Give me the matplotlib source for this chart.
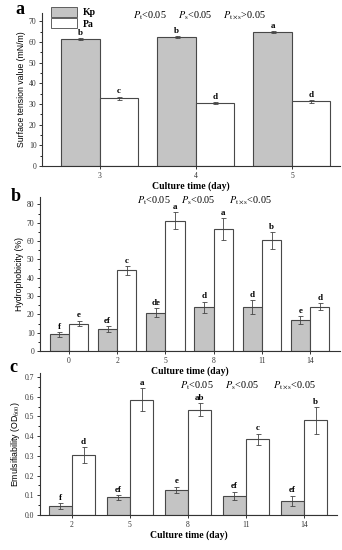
import numpy as np
import matplotlib
matplotlib.use('Agg')
import matplotlib.pyplot as plt
from matplotlib.patches import Patch
from matplotlib.ticker import MultipleLocator

plt.rcParams['font.family'] = ['Liberation Serif', 'DejaVu Serif']
plt.rcParams['mathtext.fontset'] = 'stix'

# 数据 a：表面张力
days_a = ['3', '4', '5']
kp_a = [61.5, 62.5, 64.8]
kp_a_err = [0.6, 0.6, 0.5]
pa_a = [32.7, 30.5, 31.3]
pa_a_err = [0.9, 0.6, 0.6]
kp_a_lab = ['b', 'b', 'a']
pa_a_lab = ['c', 'd', 'd']

# 数据 b：疏水性
days_b = ['0', '2', '5', '8', '11', '14']
kp_b = [9.2, 12.0, 21.0, 24.0, 24.0, 17.0]
kp_b_err = [1.3, 1.5, 2.5, 3.0, 4.0, 2.0]
pa_b = [15.0, 44.0, 71.0, 66.3, 60.3, 24.2]
pa_b_err = [1.6, 2.5, 4.7, 6.0, 4.5, 2.0]
kp_b_lab = ['f', 'ef', 'de', 'd', 'd', 'e']
pa_b_lab = ['e', 'c', 'a', 'a', 'b', 'd']

# 数据 c：乳化性
days_c = ['2', '5', '8', '11', '14']
kp_c = [0.045, 0.090, 0.127, 0.098, 0.072]
kp_c_err = [0.017, 0.013, 0.017, 0.021, 0.026]
pa_c = [0.305, 0.585, 0.533, 0.385, 0.480]
pa_c_err = [0.040, 0.058, 0.033, 0.028, 0.068]
kp_c_lab = ['f', 'ef', 'e', 'ef', 'ef']
pa_c_lab = ['d', 'a', 'ab', 'c', 'b']

# 显著性标注
p_terms = [r'$P_{\mathrm{t}}$<0.05', r'$P_{\mathrm{s}}$<0.05']
p_ts_a = r'$P_{\mathrm{t\times s}}$>0.05'
p_ts_bc = r'$P_{\mathrm{t\times s}}$<0.05'

W, H = 342, 550
fig = plt.figure(figsize=(W / 100, H / 100), dpi=100)

edge = '#484848'
gray = '#c4c4c4'
w = 0.4


def panel(rect, days, kp, kp_err, pa, pa_err, kp_lab, pa_lab,
          xlim, ylim, major, minor, ylabel, off):
    ax = fig.add_axes(rect)
    ax.patch.set_facecolor('none')
    x = np.arange(len(days))
    ax.bar(x - w / 2, kp, w, color=gray, edgecolor=edge, linewidth=0.8)
    ax.bar(x + w / 2, pa, w, color='white', edgecolor=edge, linewidth=0.8)
    ax.errorbar(x - w / 2, kp, yerr=kp_err, fmt='none', ecolor='#444444',
                elinewidth=0.6, capsize=1.8, capthick=0.6)
    ax.errorbar(x + w / 2, pa, yerr=pa_err, fmt='none', ecolor='#444444',
                elinewidth=0.6, capsize=1.8, capthick=0.6)
    for i in range(len(days)):
        ax.text(x[i] - w / 2, kp[i] + kp_err[i] + off, kp_lab[i],
                ha='center', va='bottom', fontsize=6.5, fontweight='bold')
        ax.text(x[i] + w / 2, pa[i] + pa_err[i] + off, pa_lab[i],
                ha='center', va='bottom', fontsize=6.5, fontweight='bold')
    ax.set_xlim(*xlim)
    ax.set_ylim(*ylim)
    ax.set_xticks(x)
    ax.set_xticklabels(days)
    ax.yaxis.set_major_locator(MultipleLocator(major))
    ax.yaxis.set_minor_locator(MultipleLocator(minor))
    ax.tick_params(axis='both', labelsize=5.5, length=2.5, width=0.7,
                   direction='out', pad=1.5, colors='#333333')
    ax.tick_params(axis='y', which='minor', length=1.5, width=0.6)
    for s in ['top', 'right']:
        ax.spines[s].set_visible(False)
    for s in ['left', 'bottom']:
        ax.spines[s].set_color('#333333')
        ax.spines[s].set_linewidth(0.8)
    ax.set_ylabel(ylabel, family=['Liberation Sans Narrow', 'Liberation Sans'],
                  fontsize=6.3, labelpad=2)
    ax.set_xlabel('Culture time (day)', fontsize=7, fontweight='bold',
                  labelpad=1.5)
    return ax


def ptext(xs, y, last):
    for xp, t in zip(xs, p_terms + [last]):
        fig.text(xp / W, 1 - y / H, t, fontsize=7.3, ha='left', va='center')


ax1 = panel([42 / W, 1 - 166 / H, 298 / W, 153 / H],
            days_a, kp_a, kp_a_err, pa_a, pa_a_err, kp_a_lab, pa_a_lab,
            (-0.6, 2.5), (0, 74), 10, 5, 'Surface tension value (mN/m)', 0.5)
ax1.legend(handles=[Patch(facecolor=gray, edgecolor=edge, linewidth=0.6, label='Kp'),
                    Patch(facecolor='white', edgecolor=edge, linewidth=0.6, label='Pa')],
           loc='upper left', bbox_to_anchor=(0.012, 1.075), frameon=False,
           handlelength=2.6, handleheight=1.15,
           prop={'weight': 'bold', 'size': 7}, labelspacing=0.1,
           handletextpad=0.6, borderpad=0.1)
ptext([133, 178, 223], 16, p_ts_a)

ax2 = panel([40 / W, 1 - 351 / H, 300 / W, 154 / H],
            days_b, kp_b, kp_b_err, pa_b, pa_b_err, kp_b_lab, pa_b_lab,
            (-0.6, 5.62), (0, 84), 10, 5, 'Hydrophobicity (%)', 0.6)
ptext([137, 181, 229], 201, p_ts_bc)

ax3 = panel([40 / W, 1 - 515 / H, 297 / W, 142 / H],
            days_c, kp_c, kp_c_err, pa_c, pa_c_err, kp_c_lab, pa_c_lab,
            (-0.55, 4.57), (0, 0.72), 0.1, 0.05,
            r'Emulsifiability (OD$_{600}$)', 0.006)
ptext([180, 225, 273], 386, p_ts_bc)

fig.text(15 / W, 1 - 9 / H, 'a', fontsize=13, fontweight='bold', va='center')
fig.text(11 / W, 1 - 196 / H, 'b', fontsize=13, fontweight='bold', va='center')
fig.text(9 / W, 1 - 368 / H, 'c', fontsize=13, fontweight='bold', va='center')

fig.savefig('out.png', dpi=100)
